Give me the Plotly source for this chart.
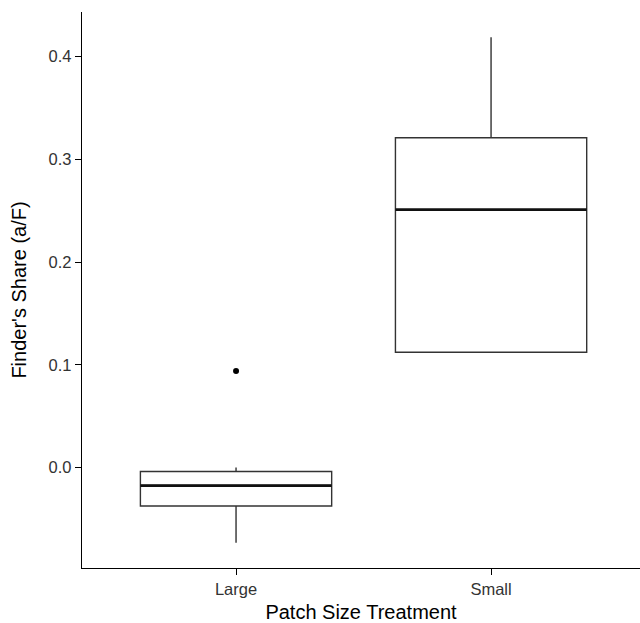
import plotly.graph_objects as go

categories = ["Large", "Small"]
q1 = [-0.0375, 0.1122]
median = [-0.0176, 0.2511]
q3 = [-0.0039, 0.3211]
lower = [-0.0733, 0.1122]
upper = [0.0, 0.4189]
outlier_cat = ["Large"]
outlier_val = [0.0939]

yticks = [0.0, 0.1, 0.2, 0.3, 0.4]
BOXW = 0.75
pos = {c: i for i, c in enumerate(categories)}

fig = go.Figure()
for i, c in enumerate(categories):
    fig.add_trace(go.Box(
        x=[i], q1=[q1[i]], median=[median[i]], q3=[q3[i]],
        lowerfence=[lower[i]], upperfence=[upper[i]],
        width=BOXW, whiskerwidth=0, boxpoints=False,
        fillcolor="white", line=dict(color="#333333", width=1.4),
        showlegend=False, hoverinfo="skip"))
    fig.add_trace(go.Scatter(
        x=[i - BOXW / 2, i + BOXW / 2], y=[median[i], median[i]],
        mode="lines", line=dict(color="#111111", width=2.8),
        showlegend=False, hoverinfo="skip"))

fig.add_trace(go.Scatter(
    x=[pos[c] for c in outlier_cat], y=outlier_val, mode="markers",
    marker=dict(color="black", size=6), showlegend=False))

font = "Arial, Liberation Sans, sans-serif"
fig.update_layout(
    width=640, height=623,
    margin=dict(l=82, r=0, t=12, b=55, autoexpand=False),
    plot_bgcolor="white", paper_bgcolor="white",
    font=dict(family=font, color="#333333", size=16.5),
)
fig.update_xaxes(
    range=[-0.604, 1.584], tickvals=list(range(len(categories))), ticktext=categories,
    showline=True, linecolor="black", linewidth=1.3, ticks="outside", ticklen=6,
    tickcolor="black", showgrid=False, zeroline=False,
    title=dict(text="Patch Size Treatment", font=dict(size=20, color="black"), standoff=9),
    tickfont=dict(size=16.5, color="#333333"))
fig.update_yaxes(
    range=[-0.0979, 0.4435], tickvals=yticks, tickformat=".1f",
    showline=True, linecolor="black", linewidth=1.3, ticks="outside", ticklen=6,
    tickcolor="black", showgrid=False, zeroline=False,
    title=dict(text="Finder's Share (a/F)", font=dict(size=20, color="black"), standoff=16),
    tickfont=dict(size=16.5, color="#333333"))

fig.write_html("out.html", config={"displayModeBar": False},
               post_script="document.body.style.margin='0';")
